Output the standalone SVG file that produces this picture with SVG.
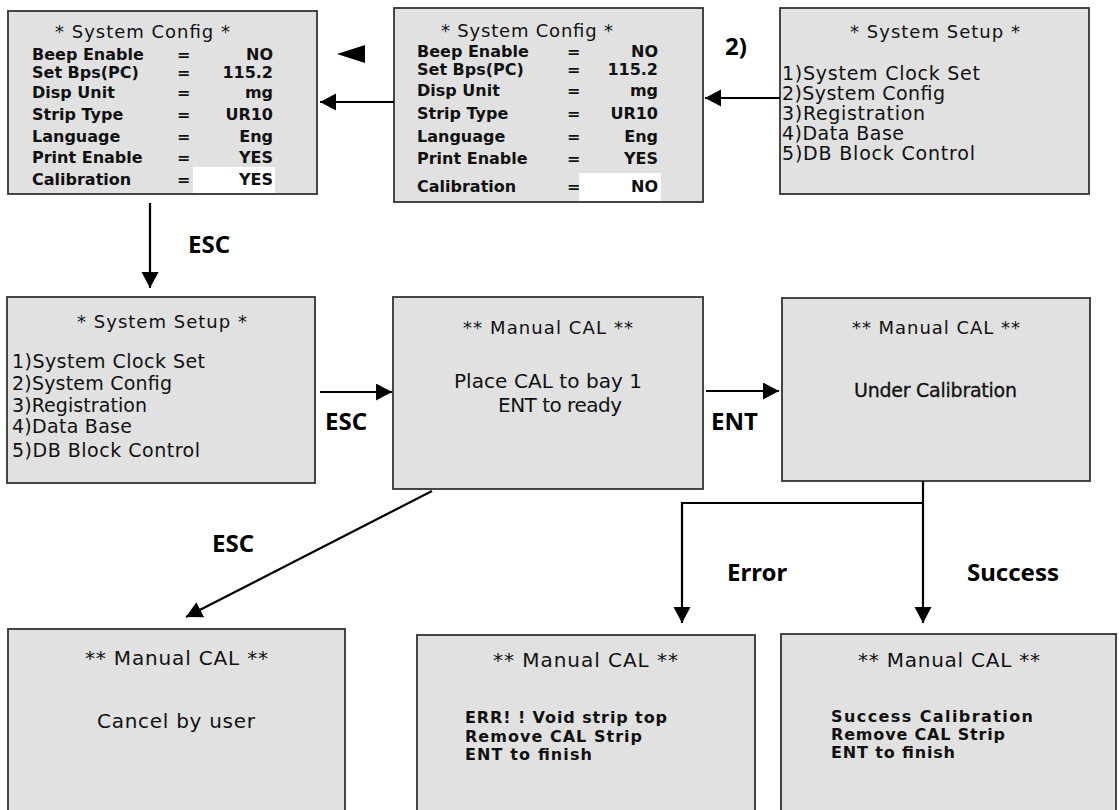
<svg xmlns="http://www.w3.org/2000/svg" width="1119" height="810" viewBox="0 0 1119 810">
<style>
.box{fill:#e1e1e1;stroke:#333333;stroke-width:1.8}
.hl{fill:#ffffff;stroke:none}
.t{font-family:"DejaVu Sans",sans-serif;font-size:18px;fill:#111}
.ti{font-family:"DejaVu Sans",sans-serif;font-size:19px;fill:#111}
.tb{font-family:"DejaVu Sans",sans-serif;font-size:16px;font-weight:bold;fill:#111}
.tm{font-family:"DejaVu Sans",sans-serif;font-size:20px;fill:#111}
.lb{font-family:"Noto Sans","Liberation Sans",sans-serif;font-size:24px;font-weight:bold;fill:#000}
.conn{stroke:#000;stroke-width:2.2;fill:none}
.end{text-anchor:end}
</style>
<defs>
<marker id="ah" markerUnits="userSpaceOnUse" markerWidth="18" markerHeight="18" refX="16" refY="8.5" orient="auto">
<path d="M0,0 L16,8.5 L0,17 Z" fill="#000"/>
</marker>
</defs>

<g id="config-yes">
<rect class="box" x="8" y="11" width="309" height="183"/>
<rect class="hl" x="193" y="167" width="82" height="26"/>
<text class="t" x="55" y="38" textLength="175">* System Config *</text>
<text class="tb" x="32" y="60">Beep Enable</text><text class="tb" x="177" y="60">=</text><text class="tb end" x="273" y="60">NO</text>
<text class="tb" x="32" y="78">Set Bps(PC)</text><text class="tb" x="177" y="78">=</text><text class="tb end" x="273" y="78">115.2</text>
<text class="tb" x="32" y="98">Disp Unit</text><text class="tb" x="177" y="98">=</text><text class="tb end" x="273" y="98">mg</text>
<text class="tb" x="32" y="120">Strip Type</text><text class="tb" x="177" y="120">=</text><text class="tb end" x="273" y="120">UR10</text>
<text class="tb" x="32" y="142">Language</text><text class="tb" x="177" y="142">=</text><text class="tb end" x="273" y="142">Eng</text>
<text class="tb" x="32" y="163">Print Enable</text><text class="tb" x="177" y="163">=</text><text class="tb end" x="273" y="163">YES</text>
<text class="tb" x="32" y="185">Calibration</text><text class="tb" x="177" y="185">=</text><text class="tb end" x="273" y="185">YES</text>
</g>

<g id="config-no">
<rect class="box" x="394" y="8" width="309" height="194"/>
<rect class="hl" x="579" y="173" width="82" height="28"/>
<text class="t" x="441" y="37" textLength="172">* System Config *</text>
<text class="tb" x="417" y="57">Beep Enable</text><text class="tb" x="567" y="57">=</text><text class="tb end" x="658" y="57">NO</text>
<text class="tb" x="417" y="75">Set Bps(PC)</text><text class="tb" x="567" y="75">=</text><text class="tb end" x="658" y="75">115.2</text>
<text class="tb" x="417" y="96">Disp Unit</text><text class="tb" x="567" y="96">=</text><text class="tb end" x="658" y="96">mg</text>
<text class="tb" x="417" y="119">Strip Type</text><text class="tb" x="567" y="119">=</text><text class="tb end" x="658" y="119">UR10</text>
<text class="tb" x="417" y="142">Language</text><text class="tb" x="567" y="142">=</text><text class="tb end" x="658" y="142">Eng</text>
<text class="tb" x="417" y="164">Print Enable</text><text class="tb" x="567" y="164">=</text><text class="tb end" x="658" y="164">YES</text>
<text class="tb" x="417" y="192">Calibration</text><text class="tb" x="567" y="192">=</text><text class="tb end" x="658" y="192">NO</text>
</g>

<g id="setup-top">
<rect class="box" x="780" y="8" width="309" height="186"/>
<text class="t" x="850" y="38" textLength="170">* System Setup *</text>
<text class="ti" x="782" y="80" textLength="198">1)System Clock Set</text>
<text class="ti" x="782" y="100" textLength="163">2)System Config</text>
<text class="ti" x="782" y="120" textLength="143">3)Registration</text>
<text class="ti" x="782" y="140" textLength="122">4)Data Base</text>
<text class="ti" x="782" y="160" textLength="193">5)DB Block Control</text>
</g>

<g id="setup-mid">
<rect class="box" x="7" y="297" width="308" height="186"/>
<text class="t" x="77" y="328" textLength="170">* System Setup *</text>
<text class="ti" x="12" y="368" textLength="193">1)System Clock Set</text>
<text class="ti" x="12" y="390" textLength="160">2)System Config</text>
<text class="ti" x="12" y="412" textLength="135">3)Registration</text>
<text class="ti" x="12" y="433" textLength="120">4)Data Base</text>
<text class="ti" x="12" y="457" textLength="188">5)DB Block Control</text>
</g>

<g id="cal-place">
<rect class="box" x="393" y="297" width="310" height="192"/>
<text class="t" x="463" y="334" textLength="170">** Manual CAL **</text>
<text class="tm" x="454" y="388" textLength="188">Place CAL to bay 1</text>
<text class="tm" x="498" y="412" textLength="124">ENT to ready</text>
</g>

<g id="cal-under">
<rect class="box" x="782" y="298" width="308" height="183"/>
<text class="t" x="852" y="334" textLength="168">** Manual CAL **</text>
<text class="ti" x="854" y="397" textLength="163" style="stroke:#111;stroke-width:0.3">Under Calibration</text>
</g>

<g id="cal-cancel">
<rect class="box" x="8" y="629" width="337" height="190"/>
<text class="tm" x="85" y="665" textLength="183">** Manual CAL **</text>
<text class="tm" x="97" y="728" textLength="158">Cancel by user</text>
</g>

<g id="cal-error">
<rect class="box" x="417" y="635" width="338" height="184"/>
<text class="tm" x="493" y="667" textLength="185">** Manual CAL **</text>
<text class="tb" x="465" y="723" textLength="202">ERR! ! Void strip top</text>
<text class="tb" x="465" y="742" textLength="177">Remove CAL Strip</text>
<text class="tb" x="465" y="760" textLength="127">ENT to finish</text>
</g>

<g id="cal-success">
<rect class="box" x="781" y="634" width="335" height="185"/>
<text class="tm" x="858" y="667" textLength="182">** Manual CAL **</text>
<text class="tb" x="831" y="722" textLength="202">Success Calibration</text>
<text class="tb" x="831" y="740" textLength="174">Remove CAL Strip</text>
<text class="tb" x="831" y="758" textLength="124">ENT to finish</text>
</g>

<g id="connectors">
<line class="conn" x1="780" y1="98" x2="705" y2="98" marker-end="url(#ah)"/>
<line class="conn" x1="394" y1="102" x2="320" y2="102" marker-end="url(#ah)"/>
<polygon points="337,54 365,45 365,63" fill="#000"/>
<line class="conn" x1="150" y1="203" x2="150" y2="288" marker-end="url(#ah)"/>
<line class="conn" x1="320" y1="392" x2="392" y2="392" marker-end="url(#ah)"/>
<line class="conn" x1="706" y1="391" x2="779" y2="391" marker-end="url(#ah)"/>
<line class="conn" x1="923" y1="481" x2="923" y2="623" marker-end="url(#ah)"/>
<path class="conn" d="M923,503 L682,503 L682,623" marker-end="url(#ah)"/>
<line class="conn" x1="432" y1="491" x2="186" y2="617" marker-end="url(#ah)"/>
<text class="lb" x="725" y="55">2)</text>
<text class="lb" x="188" y="253">ESC</text>
<text class="lb" x="325" y="430">ESC</text>
<text class="lb" x="711" y="430">ENT</text>
<text class="lb" x="212" y="552">ESC</text>
<text class="lb" x="727" y="581">Error</text>
<text class="lb" x="967" y="581">Success</text>
</g>
</svg>
